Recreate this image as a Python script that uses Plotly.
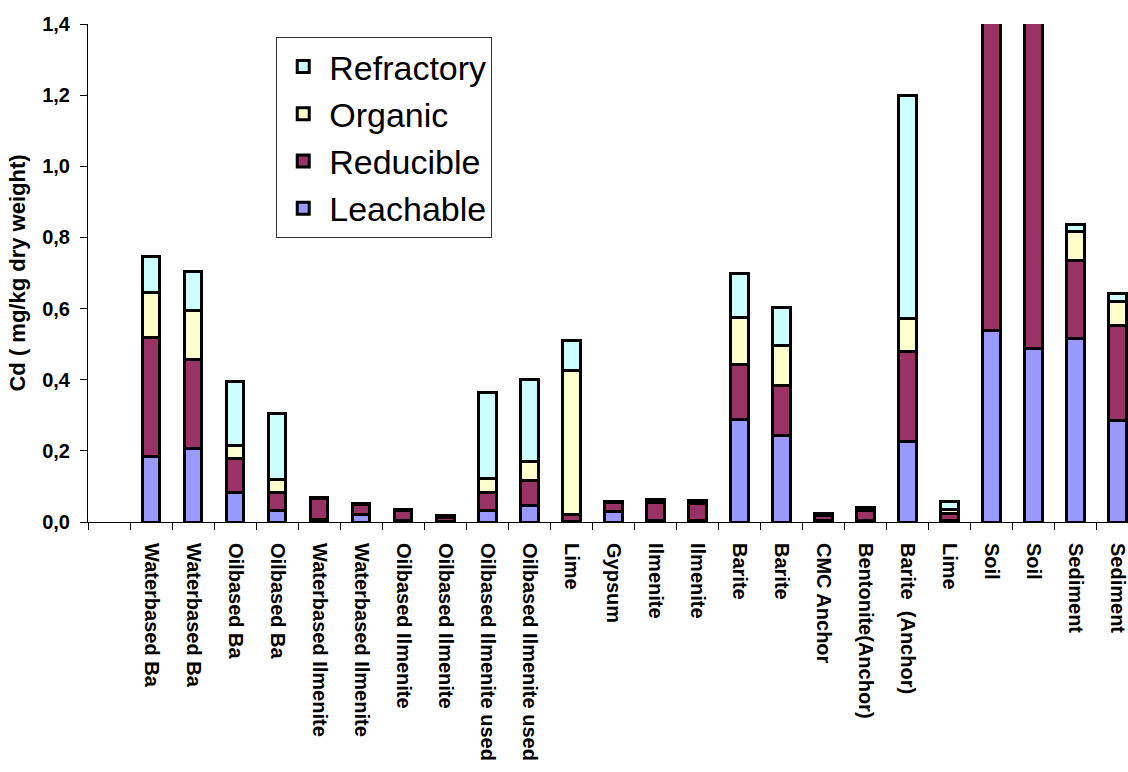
import plotly.graph_objects as go

# ---- data ----
categories = [
    "Waterbased Ba", "Waterbased Ba", "Oilbased Ba", "Oilbased Ba",
    "Waterbased Ilmenite", "Waterbased Ilmenite", "Oilbased Ilmenite", "Oilbased Ilmenite",
    "Oilbased Ilmenite used", "Oilbased Ilmenite used", "Lime", "Gypsum",
    "Ilmenite", "Ilmenite", "Barite", "Barite", "CMC Anchor", "Bentonite(Anchor)",
    "Barite \u00a0(Anchor)", "Lime", "Soil", "Soil", "Sediment", "Sediment",
]
leachable = [0.183, 0.207, 0.083, 0.032, 0.008, 0.020, 0.003, 0.002,
             0.032, 0.047, 0.002, 0.030, 0.004, 0.004, 0.288, 0.244,
             0.003, 0.003, 0.225, 0.003, 0.539, 0.487, 0.515, 0.286]
reducible = [0.336, 0.251, 0.096, 0.051, 0.057, 0.028, 0.028, 0.010,
             0.050, 0.070, 0.020, 0.024, 0.050, 0.048, 0.155, 0.140,
             0.016, 0.030, 0.253, 0.022, 1.100, 1.050, 0.221, 0.267]
organic = [0.127, 0.137, 0.036, 0.036, 0.002, 0.002, 0.002, 0.002,
           0.039, 0.054, 0.404, 0.002, 0.005, 0.004, 0.131, 0.113,
           0.002, 0.004, 0.095, 0.010, 0.080, 0.070, 0.081, 0.068]
refractory = [0.101, 0.110, 0.180, 0.187, 0.002, 0.002, 0.002, 0.003,
              0.244, 0.229, 0.083, 0.002, 0.004, 0.004, 0.124, 0.105,
              0.004, 0.005, 0.627, 0.023, 0.100, 0.090, 0.020, 0.021]
y_ticks = [0.0, 0.2, 0.4, 0.6, 0.8, 1.0, 1.2, 1.4]

series = [
    ("Leachable", leachable, "#9999FF"),
    ("Reducible", reducible, "#993366"),
    ("Organic", organic, "#FFFFCC"),
    ("Refractory", refractory, "#CCFFFF"),
]

# the chart has one empty leading category slot, so labels sit at 1..N
xpos = list(range(1, len(categories) + 1))

FONT = "Liberation Sans, Arial, sans-serif"

fig = go.Figure()
for name, vals, col in series:
    fig.add_trace(go.Bar(
        x=xpos, y=vals, name=name,
        marker=dict(color=col, line=dict(color="black", width=3)),
    ))

fig.update_layout(
    width=1128, height=772,
    barmode="stack", bargap=0.58,
    separators=",.",
    plot_bgcolor="white", paper_bgcolor="white",
    margin=dict(l=88, r=0, t=24, b=250, autoexpand=False),
    font=dict(family=FONT, color="black"),
    legend=dict(
        x=0.181, y=0.974, xanchor="left", yanchor="top",
        traceorder="reversed",
        bordercolor="#333333", borderwidth=1, bgcolor="white",
        font=dict(family=FONT, size=34, color="black"),
        itemwidth=42,
        tracegroupgap=0,
    ),
    showlegend=True,
)

fig.update_xaxes(
    range=[-0.5, 24.25],
    tickmode="array", tickvals=xpos, ticktext=categories,
    tickangle=90, ticks="", ticklabelstandoff=16, ticklabeloverflow="allow",
    tickfont=dict(family=FONT, size=20, weight="bold", color="black"),
    showline=True, linecolor="black", linewidth=1,
    showgrid=False, zeroline=False, automargin=False,
    minor=dict(tickmode="linear", tick0=-0.5, dtick=1, ticks="outside",
               ticklen=7, tickcolor="black", tickwidth=1, showgrid=False),
)
fig.update_yaxes(
    range=[0, 1.4], tickmode="array", tickvals=y_ticks, tickformat=".1f",
    ticks="outside", ticklen=7, tickcolor="black", tickwidth=1,
    ticklabelstandoff=6,
    tickfont=dict(family=FONT, size=20, weight="bold", color="black"),
    showline=True, linecolor="black", linewidth=1,
    showgrid=False, zeroline=False, automargin=False,
    title=dict(text="Cd ( mg/kg dry weight)", standoff=10,
               font=dict(family=FONT, size=22, weight="bold", color="black")),
)

fig.write_html("out.html", config={"displayModeBar": False},
               post_script="document.body.style.margin='0';document.body.style.overflow='hidden';")
